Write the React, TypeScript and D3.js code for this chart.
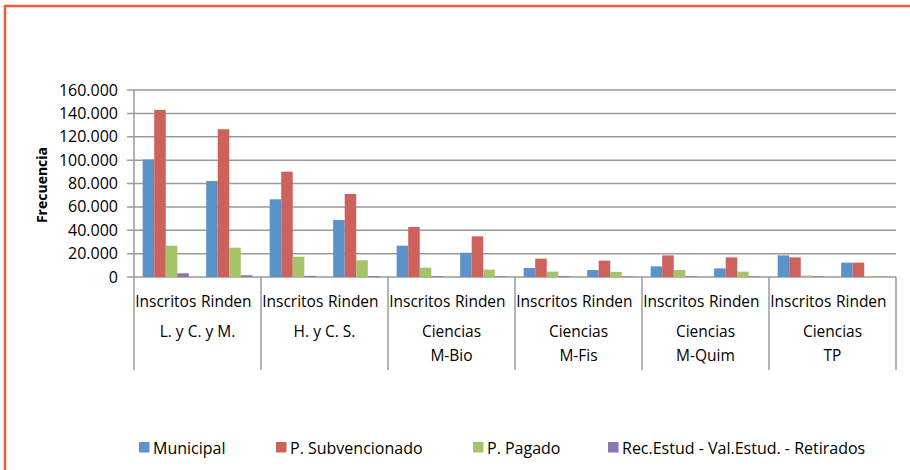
import React from "react";
import * as d3 from "d3";

const groups: string[][] = [
  ["L. y C. y M."],
  ["H. y C. S."],
  ["Ciencias", "M-Bio"],
  ["Ciencias", "M-Fis"],
  ["Ciencias", "M-Quim"],
  ["Ciencias", "TP"],
];
const subCategories = ["Inscritos", "Rinden"];
const seriesNames = [
  "Municipal",
  "P. Subvencionado",
  "P. Pagado",
  "Rec.Estud - Val.Estud. - Retirados",
];
const municipal = [100500, 82100, 66500, 48800, 26800, 20800, 7700, 6000, 9100, 7400, 18500, 12300];
const subvencionado = [143000, 126400, 90100, 71000, 42800, 34800, 15700, 14000, 18500, 16800, 16800, 12300];
const pagado = [26800, 25100, 17400, 14300, 8000, 6300, 4600, 4400, 6000, 4600, 1200, 800];
const retirados = [3200, 1500, 1000, 800, 700, 600, 700, 500, 600, 500, 600, 200];
const yTicks = [0, 20000, 40000, 60000, 80000, 100000, 120000, 140000, 160000];
const yTitle = "Frecuencia";

const seriesValues = [municipal, subvencionado, pagado, retirados];
const colors = ["#5B92C9", "#CD625D", "#A5C46A", "#8E74B2"];

const FONT = "'Open Sans', 'Noto Sans', sans-serif";

export default function App() {
  const left = 134, right = 896, top = 90, bottom = 277, axisBottom = 370;
  const slots = groups.flatMap((g, gi) => subCategories.map((s) => `${gi}-${s}`));
  const x0 = d3.scaleBand<string>().domain(slots).range([left, right]).paddingInner(0).paddingOuter(0);
  const x1 = d3.scaleBand<string>().domain(seriesNames).range([0, x0.bandwidth()]).paddingInner(0).paddingOuter(0.75);
  const y = d3.scaleLinear().domain([0, 160000]).range([bottom, top]);
  const gx = d3.scaleBand<number>().domain(groups.map((_, i) => i)).range([left, right]).padding(0);
  const fmt = d3.formatLocale({ decimal: ",", thousands: ".", grouping: [3], currency: ["", ""] }).format(",");

  const legendX = [139, 276, 473, 608];
  const gridColor = "#9A9A9A";

  return (
    <svg width={910} height={470} style={{ position: "absolute", left: 0, top: 0, background: "#fff" }} fontFamily={FONT}>
      <rect x={0} y={0} width={910} height={470} fill="#fff" />
      <rect x={5} y={6} width={950} height={520} fill="none" stroke="#EF5B3F" strokeWidth={2.5} />
      {/* gridlines + y ticks */}
      {yTicks.map((t) => (
        <g key={t}>
          <line x1={left - 7} x2={right} y1={y(t)} y2={y(t)} stroke={gridColor} strokeWidth={1.5} />
          <text x={118} y={y(t)} dy="0.35em" textAnchor="end" fontSize={16} fill="#000">
            {fmt(t)}
          </text>
        </g>
      ))}
      {/* y axis */}
      <line x1={left} x2={left} y1={top} y2={axisBottom} stroke={gridColor} strokeWidth={1.5} />
      {/* group separators */}
      {groups.map((_, i) => (
        <line key={i} x1={gx(i)! + gx.bandwidth()} x2={gx(i)! + gx.bandwidth()} y1={bottom} y2={axisBottom} stroke={gridColor} strokeWidth={1.5} />
      ))}
      {/* bars */}
      {slots.map((slot, si) =>
        seriesNames.map((s, k) => {
          const v = seriesValues[k][si];
          return (
            <rect
              key={slot + s}
              x={x0(slot)! + x1(s)!}
              y={y(v)}
              width={x1.bandwidth()}
              height={y(0) - y(v)}
              fill={colors[k]}
            />
          );
        })
      )}
      {/* sub category labels */}
      {slots.map((slot, si) => (
        <text key={slot} x={x0(slot)! + x0.bandwidth() / 2 - (si % 2) * 3} y={307} textAnchor="middle" fontSize={15.5} fill="#000">
          {subCategories[si % 2]}
        </text>
      ))}
      {/* group labels */}
      {groups.map((lines, i) =>
        lines.map((ln, j) => (
          <text key={i + "-" + j} x={gx(i)! + gx.bandwidth() / 2} y={337 + j * 24} textAnchor="middle" fontSize={15.5} fill="#000">
            {ln}
          </text>
        ))
      )}
      {/* y title */}
      <text transform={`translate(47,185) rotate(-90)`} textAnchor="middle" fontSize={14} fontWeight="bold" fill="#000">
        {yTitle}
      </text>
      {/* legend */}
      {seriesNames.map((s, k) => (
        <g key={s}>
          <rect x={legendX[k]} y={442} width={10.5} height={10.5} fill={colors[k]} />
          <text x={legendX[k] + 14} y={454} fontSize={16} fill="#000">
            {s}
          </text>
        </g>
      ))}
    </svg>
  );
}
